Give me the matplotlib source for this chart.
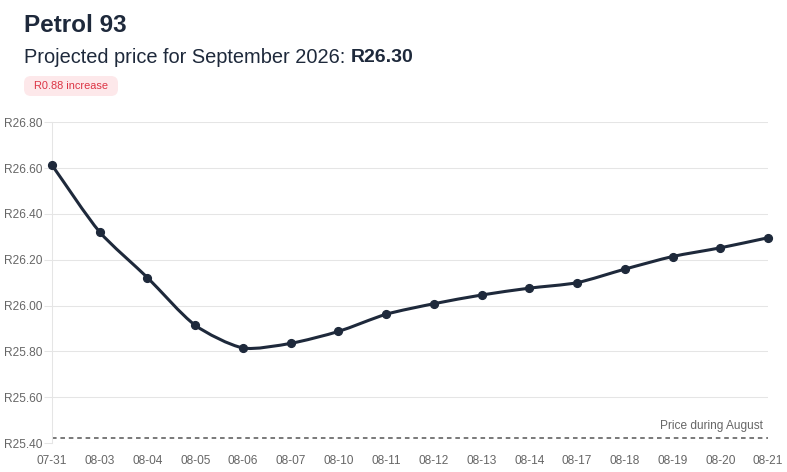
import matplotlib
matplotlib.use("Agg")
import matplotlib.pyplot as plt
import numpy as np
from matplotlib.path import Path
from matplotlib.patches import PathPatch, FancyBboxPatch
from matplotlib.transforms import IdentityTransform

plt.rcParams['font.family'] = ['Liberation Sans', 'DejaVu Sans']

# ---- data ----
dates = ["07-31", "08-03", "08-04", "08-05", "08-06", "08-07", "08-10", "08-11",
         "08-12", "08-13", "08-14", "08-17", "08-18", "08-19", "08-20", "08-21"]
prices = [26.613, 26.321, 26.122, 25.914, 25.815, 25.835, 25.887, 25.962,
          26.008, 26.046, 26.076, 26.100, 26.159, 26.214, 26.252, 26.296]
august_price = 25.42
projected_price = "R26.30"
change_label = "R0.88 increase"
title = "Petrol 93"
subtitle = "Projected price for September 2026:"
ref_label = "Price during August"
y_ticks = [25.40, 25.60, 25.80, 26.00, 26.20, 26.40, 26.60, 26.80]

W, H = 787, 472
fig = plt.figure(figsize=(W / 100, H / 100), dpi=100)
fig.patch.set_facecolor("white")

L, R, T, B = 52, 768, 122.3, 443.0
ax = fig.add_axes([L / W, 1 - B / H, (R - L) / W, (B - T) / H])
x = np.arange(len(dates), dtype=float)
y = np.array(prices, dtype=float)
ax.set_xlim(0, len(dates) - 1)
ax.set_ylim(25.40, 26.80)

line_color = "#1e293b"
grid_color = "#e5e5e5"
tick_color = "#666666"

# grid & axes
ax.set_yticks(y_ticks)
ax.set_yticklabels([f"R{v:.2f}" for v in y_ticks])
ax.set_xticks(x)
ax.set_xticklabels(dates)
ax.grid(axis="y", color=grid_color, linewidth=0.75)
ax.set_axisbelow(True)
for s in ["top", "right", "bottom"]:
    ax.spines[s].set_visible(False)
ax.spines["left"].set_color(grid_color)
ax.spines["left"].set_linewidth(0.75)
ax.tick_params(axis="y", length=5.76, width=0.75, color=grid_color, pad=1.5,
               labelsize=8.6, labelcolor=tick_color)
ax.tick_params(axis="x", length=0, pad=9, labelsize=8.6, labelcolor=tick_color)

# reference line
ax.axhline(august_price, color="#555555", linewidth=1.1, dashes=(3, 2.5), zorder=2)
ax.annotate(ref_label, xy=(x[-1], august_price), xytext=(-3.6, 9),
            textcoords="offset points", ha="right", va="center",
            fontsize=8.6, color=tick_color)

# smooth line (Chart.js-style spline with tension) as bezier path
pts = ax.transData.transform(np.column_stack([x, y]))
t = 0.25
n = len(pts)
cp_prev = np.zeros_like(pts)
cp_next = np.zeros_like(pts)
for i in range(n):
    prev = pts[i - 1] if i > 0 else pts[i]
    cur = pts[i]
    nxt = pts[i + 1] if i < n - 1 else pts[i]
    d01 = np.hypot(*(cur - prev))
    d12 = np.hypot(*(nxt - cur))
    tot = d01 + d12
    s01 = d01 / tot if tot else 0
    s12 = d12 / tot if tot else 0
    cp_prev[i] = cur - t * s01 * (nxt - prev)
    cp_next[i] = cur + t * s12 * (nxt - prev)
verts = [pts[0]]
codes = [Path.MOVETO]
for i in range(n - 1):
    verts += [cp_next[i], cp_prev[i + 1], pts[i + 1]]
    codes += [Path.CURVE4] * 3
verts = ax.transData.inverted().transform(np.array(verts))
ax.add_patch(PathPatch(Path(verts, codes), fill=False, edgecolor=line_color,
                       linewidth=2.2, capstyle="round", joinstyle="round",
                       transform=ax.transData, clip_on=False, zorder=3))
ax.plot(x, y, "o", color=line_color, markersize=5.6, clip_on=False, zorder=4)

# header texts
fig.text(24 / W, 1 - 31.7 / H, title, fontsize=17.5, fontweight="bold",
         color=line_color, va="baseline", ha="left")
sub = fig.text(24 / W, 1 - 63.3 / H, subtitle, fontsize=14.4,
               color=line_color, va="baseline", ha="left")
fig.canvas.draw()
bb = sub.get_window_extent()
fig.text((bb.x1 + 5) / W, 1 - 62.5 / H, projected_price, fontsize=14,
         fontweight="bold", color=line_color, va="baseline", ha="left")

# badge
bx0, by0, bw, bh = 24, H - 96, 94, 20
fig.patches.append(FancyBboxPatch((bx0, by0), bw, bh,
                                  boxstyle="round,pad=0,rounding_size=7",
                                  transform=IdentityTransform(),
                                  facecolor="#fde8ea", edgecolor="none"))
fig.text((bx0 + bw / 2) / W, 1 - 86 / H, change_label, fontsize=7.9,
         color="#dc3545", ha="center", va="center")

fig.savefig("out.png", dpi=100, facecolor="white")
